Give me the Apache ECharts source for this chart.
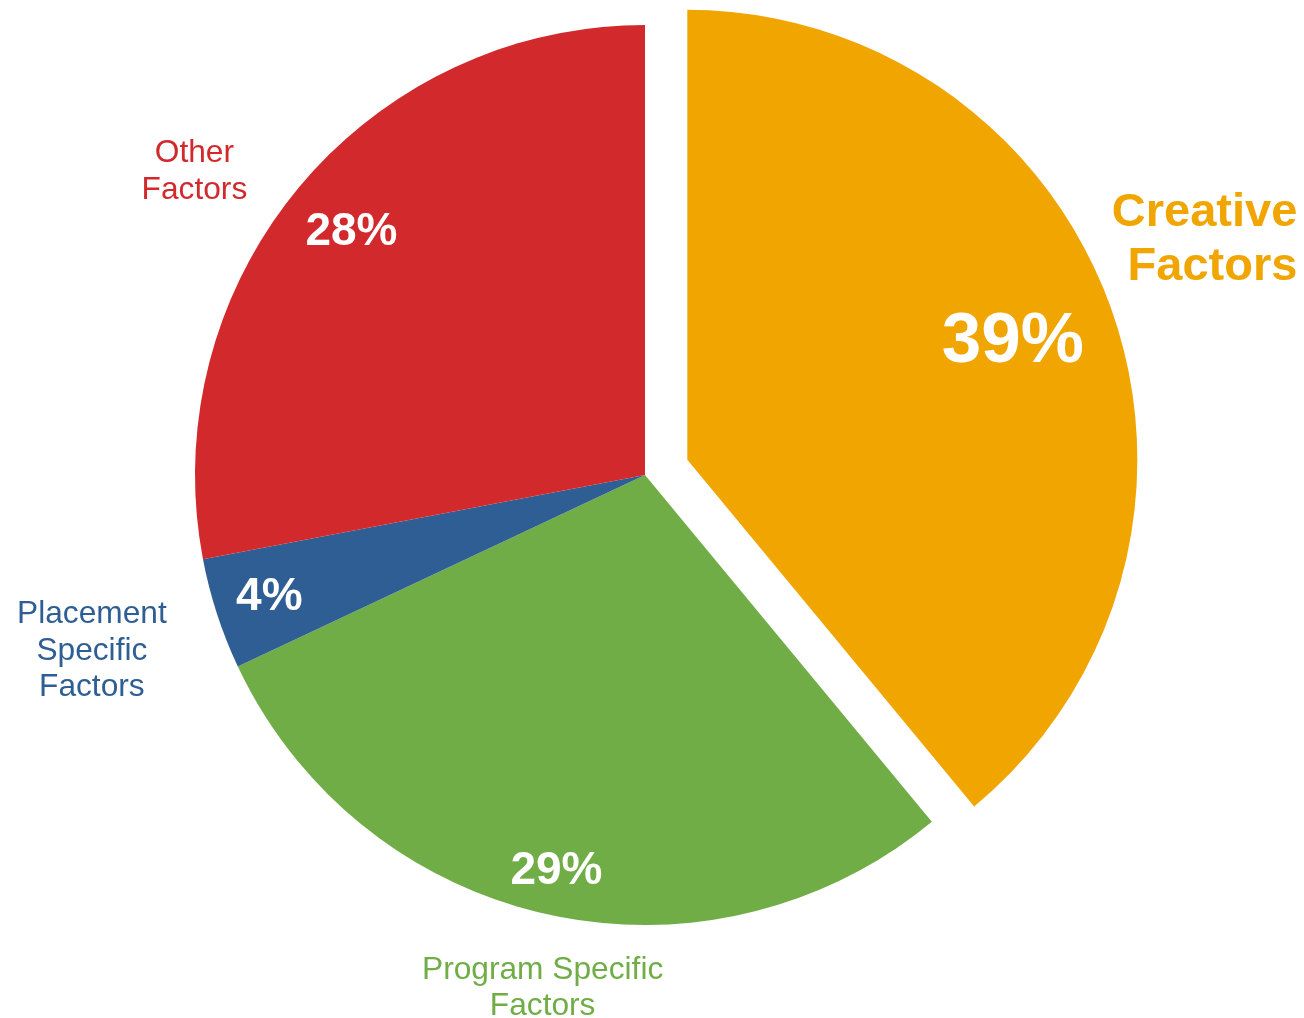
<!DOCTYPE html>
<html>
<head>
<meta charset="utf-8">
<title>Factors share</title>
<script src="https://cdn.jsdelivr.net/npm/echarts@6/dist/echarts.min.js"></script>
<style>
  html, body { margin: 0; padding: 0; background: #ffffff; }
  #chart { width: 1304px; height: 1018px; }
</style>
</head>
<body>
<div id="chart"></div>
<script>
// Slices, in clockwise order starting from 12 o'clock
const categories = ['Creative Factors', 'Program Specific Factors', 'Placement Specific Factors', 'Other Factors'];
const nameLines = ['Creative\nFactors', 'Program Specific\nFactors', 'Placement\nSpecific\nFactors', 'Other\nFactors'];
const shares = [39, 29, 4, 28];
const exploded = [true, false, false, false];

const palette = ['#F0A500', '#70AD47', '#2E5E93', '#D1292C'];
const FONT = '"Liberation Sans", Arial, Helvetica, sans-serif';

const CENTER = [645, 475];
const RADIUS = 450;
const OFFSET = 45;

// Distance of each percentage label from the slice centre
const pctRadius = [343, 403, 392, 378];
const pctSize = [71, 46, 46, 46];

const NAME_SIZE = 31.7;
const NAME_LINE = 36.5;

// Per-slice placement of the category name outside the pie
const nameLabel = [
  { label: { alignTo: 'edge', edgeDistance: 49, fontSize: 47, fontWeight: 'bold', lineHeight: 54,
             formatter: '{r|{b}}', rich: { r: { align: 'right', fontSize: 47, fontWeight: 'bold', lineHeight: 54 } } },
    labelLine: { length: 198, length2: 0 } },
  { label: { alignTo: 'edge', edgeDistance: 422 }, labelLine: { length: 76, length2: 0 } },
  { label: { alignTo: 'edge', edgeDistance: 17 }, labelLine: { length: 120, length2: 0 } },
  { label: { alignTo: 'none' }, labelLine: { length: 26, length2: 26 } }
];

function baseData(withNames) {
  return shares.map((v, i) => {
    const item = { name: nameLines[i], value: v, selected: exploded[i] };
    if (withNames) {
      item.itemStyle = { color: palette[i] };
      const nl = nameLabel[i];
      const rich = nl.label.rich ||
        { c: { align: 'center', fontSize: NAME_SIZE, lineHeight: NAME_LINE } };
      Object.keys(rich).forEach(k => { rich[k].color = palette[i]; rich[k].fontFamily = FONT; });
      item.label = Object.assign({ color: palette[i], formatter: '{c|{b}}' }, nl.label, { rich: rich });
      item.labelLine = Object.assign({ show: false }, nl.labelLine);
    } else {
      item.itemStyle = { color: 'rgba(0,0,0,0)' };
    }
    return item;
  });
}

const series = [{
  type: 'pie',
  center: CENTER,
  radius: RADIUS,
  startAngle: 90,
  clockwise: true,
  selectedMode: 'single',
  selectedOffset: OFFSET,
  avoidLabelOverlap: false,
  silent: true,
  itemStyle: { borderWidth: 0 },
  emphasis: { disabled: true },
  label: {
    show: true,
    position: 'outside',
    fontFamily: FONT,
    fontSize: NAME_SIZE,
    lineHeight: NAME_LINE,
    distanceToLabelLine: 5
  },
  labelLine: { show: false },
  data: baseData(true)
}];

// Transparent rings that carry the percentage labels at their own radii
shares.forEach((v, idx) => {
  series.push({
    type: 'pie',
    center: CENTER,
    radius: [2 * pctRadius[idx] - RADIUS, RADIUS],
    startAngle: 90,
    clockwise: true,
    selectedMode: 'single',
    selectedOffset: OFFSET,
    avoidLabelOverlap: false,
    silent: true,
    z: 3,
    itemStyle: { borderWidth: 0 },
    emphasis: { disabled: true },
    label: {
      show: true,
      position: 'inside',
      color: '#ffffff',
      fontFamily: FONT,
      fontWeight: 'bold',
      fontSize: pctSize[idx],
      formatter: p => (p.dataIndex === idx ? p.value + '%' : '')
    },
    labelLine: { show: false },
    data: baseData(false)
  });
});

const chart = echarts.init(document.getElementById('chart'), null, { renderer: 'canvas' });
chart.setOption({
  animation: false,
  backgroundColor: '#ffffff',
  series: series
});
</script>
</body>
</html>
